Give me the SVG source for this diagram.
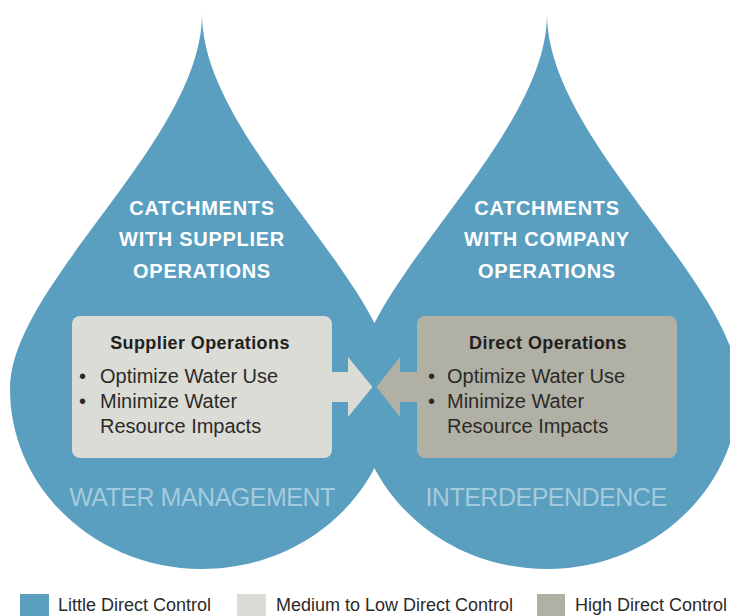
<svg xmlns="http://www.w3.org/2000/svg" width="730" height="616" viewBox="0 0 730 616">
  <style>
    .drop { fill: #5a9ec0; }
    .head { font-family: "Liberation Sans", Arial, sans-serif; font-weight: bold; font-size: 20px; fill: #ffffff; text-anchor: middle; letter-spacing: 0.7px; }
    .title { font-family: "Liberation Sans", Arial, sans-serif; font-weight: bold; font-size: 18px; fill: #231f20; text-anchor: middle; letter-spacing: 0.4px; }
    .item { font-family: "Liberation Sans", Arial, sans-serif; font-size: 20px; fill: #2b2a29; }
    .big { font-family: "Liberation Sans", Arial, sans-serif; font-size: 25px; fill: #a3cbdd; text-anchor: middle; letter-spacing: -0.5px; }
    .leg { font-family: "Liberation Sans", Arial, sans-serif; font-size: 18px; fill: #2b2a29; }
    .light { fill: #dcdcd6; }
    .dark { fill: #b1b0a4; }
  </style>
  <defs>
    <path id="dropShape" d="M202,14 C202,140 10,285 10,389 C10,488.4 96,569 202,569 C308,569 394,488.4 394,389 C394,285 202,140 202,14 Z"/>
  </defs>

  <g id="drop-supplier">
    <use href="#dropShape" class="drop"/>
    <text class="head" x="202" y="214.5">CATCHMENTS</text>
    <text class="head" x="202" y="246">WITH SUPPLIER</text>
    <text class="head" x="202" y="277.5">OPERATIONS</text>
  </g>
  <g id="drop-company">
    <use href="#dropShape" class="drop" transform="translate(345,0)"/>
    <text class="head" x="547" y="214.5">CATCHMENTS</text>
    <text class="head" x="547" y="246">WITH COMPANY</text>
    <text class="head" x="547" y="277.5">OPERATIONS</text>
  </g>

  <text class="big" x="202" y="505.5">WATER MANAGEMENT</text>
  <text class="big" x="546" y="505.5">INTERDEPENDENCE</text>

  <g id="connectors">
    <polygon class="light" points="330,372 348,372 348,357 372.5,387 348,417 348,402 330,402"/>
    <polygon class="dark" points="419,372 400,372 400,357 376.5,387 400,417 400,402 419,402"/>
  </g>

  <g id="node-supplier">
    <rect class="light" x="72" y="316" width="260" height="142" rx="8"/>
    <text class="title" x="200" y="349">Supplier Operations</text>
    <text class="item" x="79" y="383">•</text>
    <text class="item" x="100" y="383">Optimize Water Use</text>
    <text class="item" x="79" y="408">•</text>
    <text class="item" x="100" y="408">Minimize Water</text>
    <text class="item" x="100" y="433">Resource Impacts</text>
  </g>

  <g id="node-direct">
    <rect class="dark" x="417" y="316" width="260" height="142" rx="8"/>
    <text class="title" x="548" y="349">Direct Operations</text>
    <text class="item" x="428" y="383">•</text>
    <text class="item" x="447" y="383">Optimize Water Use</text>
    <text class="item" x="428" y="408">•</text>
    <text class="item" x="447" y="408">Minimize Water</text>
    <text class="item" x="447" y="433">Resource Impacts</text>
  </g>

  <g id="legend">
    <rect class="drop" x="20" y="594" width="29" height="22"/>
    <text class="leg" x="58" y="611">Little Direct Control</text>
    <rect class="light" x="237" y="594" width="29" height="22"/>
    <text class="leg" x="276" y="611">Medium to Low Direct Control</text>
    <rect class="dark" x="537" y="594" width="28" height="22"/>
    <text class="leg" x="575" y="611">High Direct Control</text>
  </g>
</svg>
